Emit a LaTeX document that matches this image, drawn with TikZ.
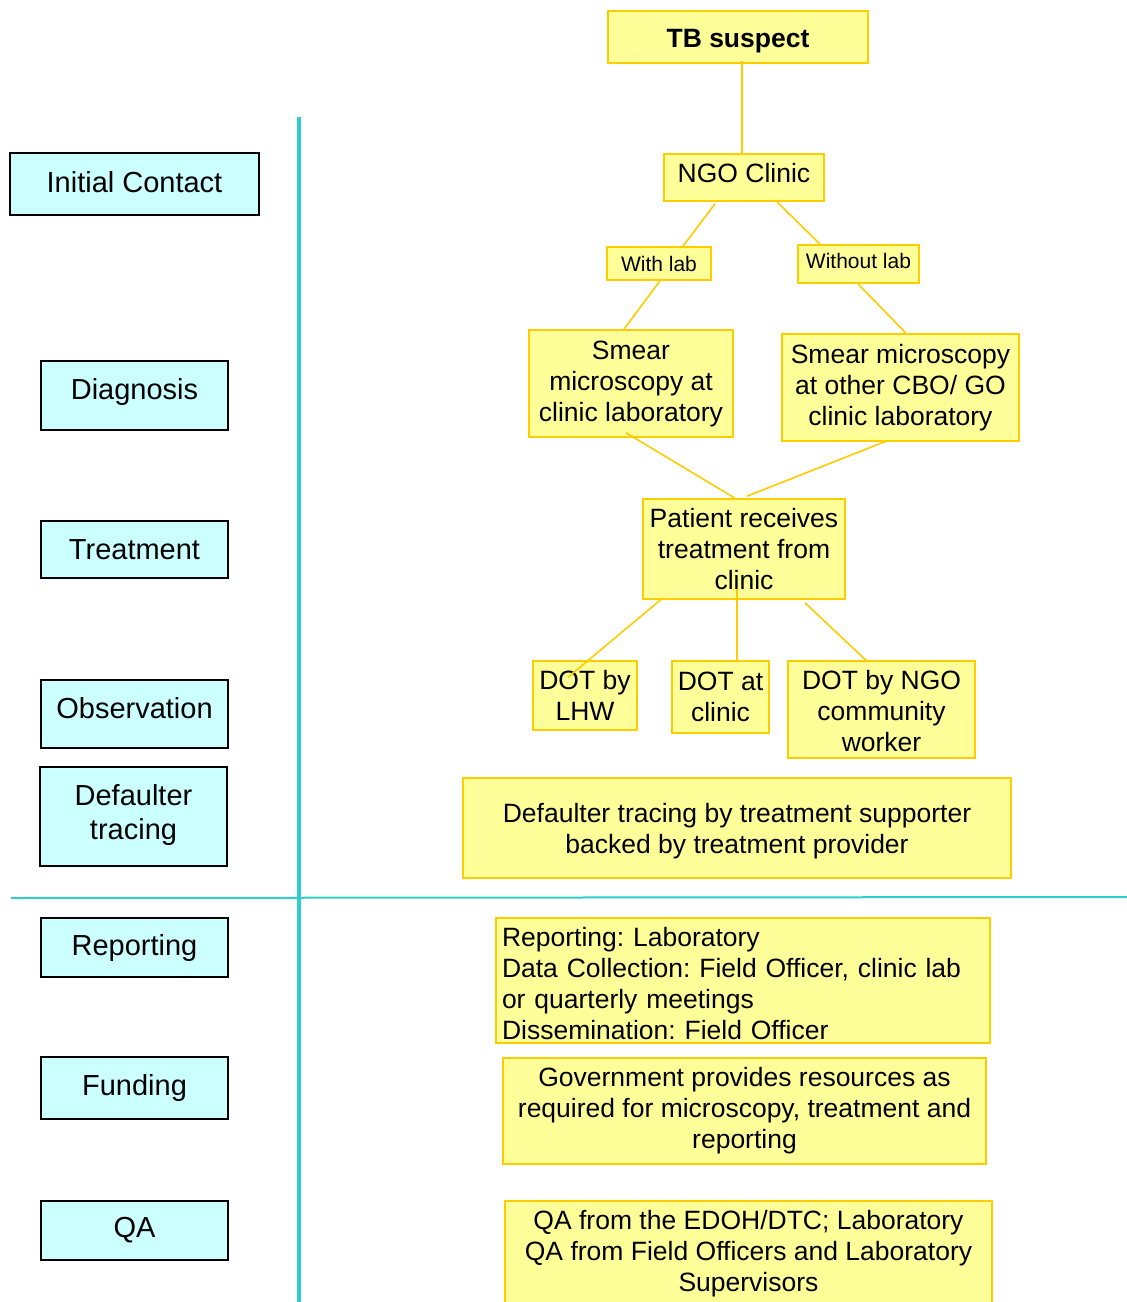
\documentclass[tikz,border=0pt]{standalone}
\usepackage{fontspec}
\setmainfont{Liberation Sans}
\usetikzlibrary{calc}
\definecolor{yfill}{HTML}{FFFF99}
\definecolor{yline}{HTML}{FFCC00}
\definecolor{cfill}{HTML}{CCFFFF}
\definecolor{teal}{HTML}{33CCCC}
\frenchspacing
% move a label vertically without changing its box
\newcommand{\nudge}[2]{\raisebox{#1}[\height][\depth]{#2}}
% stacked lines, centred or flush left
\newcommand{\clines}[1]{\begin{tabular}{@{}c@{}}#1\end{tabular}}
\newcommand{\llines}[1]{\begin{tabular}{@{}l@{}}#1\end{tabular}}
\begin{document}
\begin{tikzpicture}[x=1pt,y=-1pt,
  ybox/.style={draw=yline,fill=yfill,line width=1.6pt,inner sep=0pt,align=center,
    font=\fontsize{26.5}{31}\selectfont},
  smallbox/.style={ybox,font=\fontsize{21}{25}\selectfont},
  cbox/.style={draw=black,fill=cfill,line width=2pt,inner sep=0pt,align=center,
    font=\fontsize{29}{34}\selectfont},
  link/.style={draw=yline,line width=1.6pt},
  rule/.style={draw=teal}]
\clip (0,0) rectangle (1127,1302);
\fill[white] (0,0) rectangle (1127,1302);

% section rules
\draw[rule,line width=4pt] (299,117) -- (299,1310);
\draw[rule,line width=2pt] (11,898) -- (1127,897);

% stage labels
\node[cbox,minimum width=249,minimum height=62] (lic) at (134.5,184) {\nudge{2pt}{Initial Contact}};
\node[cbox,minimum width=187,minimum height=69] (ldiag) at (134.5,395.5) {\nudge{4pt}{Diagnosis}};
\node[cbox,minimum width=187,minimum height=57] (ltreat) at (134.5,549.5) {Treatment};
\node[cbox,minimum width=187,minimum height=68] (lobs) at (134.5,714) {\nudge{6pt}{Observation}};
\node[cbox,minimum width=187,minimum height=99] (ldef) at (133.5,816.5) {\nudge{1pt}{\clines{Defaulter\\tracing}}};
\node[cbox,minimum width=187,minimum height=59] (lrep) at (134.5,947.5) {Reporting};
\node[cbox,minimum width=187,minimum height=62] (lfund) at (134.5,1088) {Funding};
\node[cbox,minimum width=187,minimum height=59] (lqa) at (134.5,1230.5) {QA};

% flow
\node[ybox,minimum width=260,minimum height=52] (tb) at (738,37) {\nudge{-4pt}{\textbf{TB suspect}}};
\node[ybox,minimum width=160,minimum height=47] (ngo) at (744,177.5) {\nudge{4pt}{NGO Clinic}};
\node[smallbox,minimum width=104,minimum height=33] (withlab) at (659,263.5) {With lab};
\node[smallbox,minimum width=121,minimum height=38] (withoutlab) at (858.5,264) {\nudge{3pt}{Without lab}};
\node[ybox,minimum width=204,minimum height=107] (smear1) at (631,383.5)
  {Smear\\microscopy at\\clinic laboratory};
\node[ybox,minimum width=237,minimum height=107] (smear2) at (900.5,387.5)
  {Smear microscopy\\at other CBO/ GO\\clinic laboratory};
\node[ybox,minimum width=202,minimum height=100] (patient) at (744,549)
  {Patient receives\\treatment from\\clinic};
\node[ybox,minimum width=104,minimum height=69] (dot1) at (585,695.5) {DOT by\\LHW};
\node[ybox,minimum width=97,minimum height=72] (dot2) at (720.5,697) {DOT at\\clinic};
\node[ybox,minimum width=187,minimum height=97] (dot3) at (881.5,709.5)
  {\nudge{-4.5pt}{\clines{DOT by NGO\\community\\worker}}};
\node[ybox,minimum width=548,minimum height=100] (defl) at (737,828)
  {\nudge{-4pt}{\clines{Defaulter tracing by treatment supporter\\backed by treatment provider}}};
\node[ybox,minimum height=125,text width=482pt,inner xsep=6pt,align=left] (rep) at (743,980.5)
  {\nudge{-6.5pt}{\llines{Reporting: Laboratory\\Data Collection: Field Officer, clinic lab\\or quarterly meetings\\Dissemination: Field Officer}}};
\node[ybox,minimum width=483,minimum height=106] (gov) at (744.5,1111)
  {Government provides resources as\\required for microscopy, treatment and\\reporting};
\node[ybox,minimum width=487,minimum height=106] (qa) at (748.5,1254)
  {QA from the EDOH/DTC; Laboratory\\QA from Field Officers and Laboratory\\Supervisors};

% connectors
\draw[link] ($(tb.south)+(4,-3)$) -- ($(ngo.north)+(-2,0)$);
\draw[link] ($(ngo.south)+(-29,2)$) -- ($(withlab.north)+(24,0)$);
\draw[link] ($(withlab.south)+(1,0)$) -- ($(smear1.north)+(-7,0)$);
\draw[link] ($(ngo.south)+(33,0)$) -- ($(withoutlab.north)+(-38.5,0)$);
\draw[link] ($(withoutlab.south)+(-0.5,0)$) -- ($(smear2.north)+(5.5,0)$);
\draw[link] ($(smear1.south)+(-5,-5)$) -- ($(patient.north)+(-9,0)$);
\draw[link] ($(smear2.south)+(-13.5,-1)$) -- ($(patient.north)+(3,-2)$);
\draw[link] ($(patient.south)+(-81,-2)$) -- ($(dot1.north)+(-17,17)$);
\draw[link] ($(patient.south)+(-7,-11)$) -- ($(dot2.north)+(16.5,2)$);
\draw[link] ($(patient.south)+(61,3)$) -- ($(dot3.north)+(-14.5,1)$);
\end{tikzpicture}
\end{document}
